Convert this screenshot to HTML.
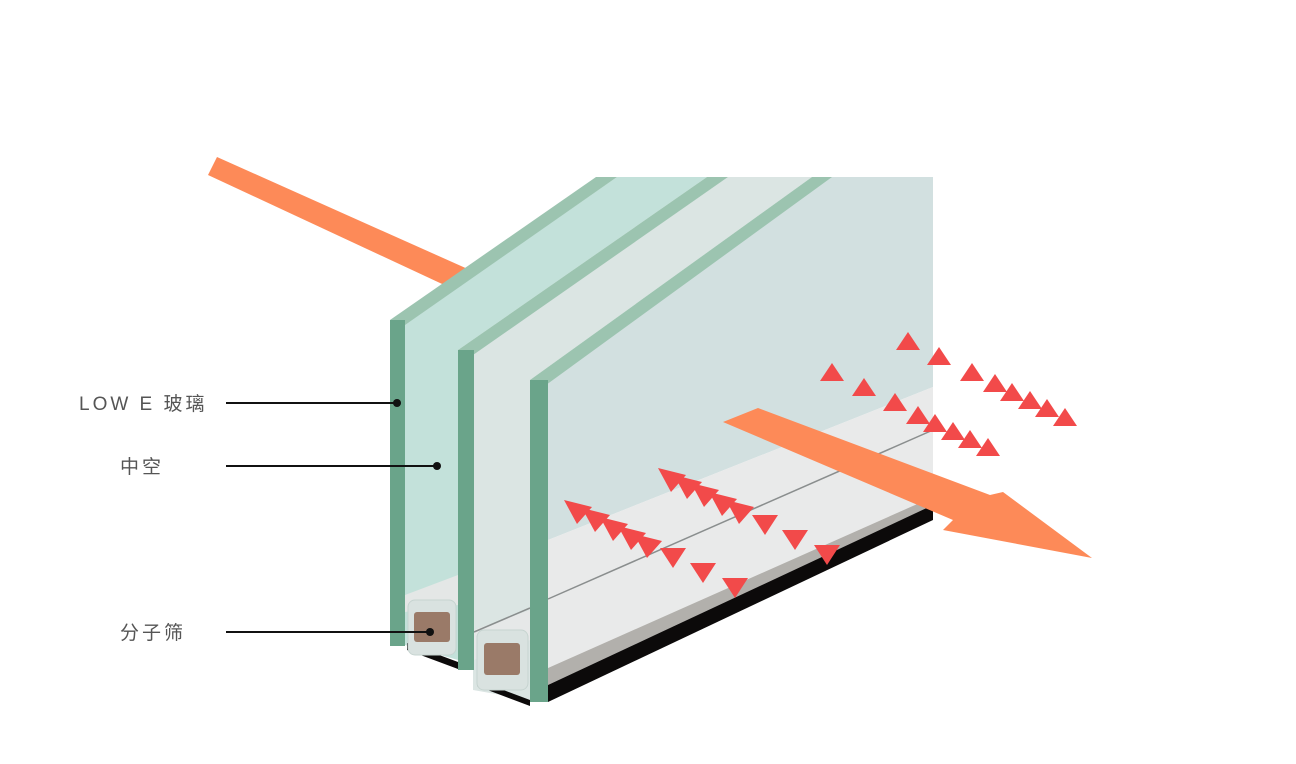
<!DOCTYPE html>
<html><head><meta charset="utf-8"><style>
html,body{margin:0;padding:0;background:#fff;}
svg{display:block;}
text{font-family:"Liberation Sans","Noto Sans CJK SC",sans-serif;fill:#555;font-size:19px;letter-spacing:3px;}
</style></head><body>
<svg width="1296" height="764" viewBox="0 0 1296 764" xmlns="http://www.w3.org/2000/svg">
<rect width="1296" height="764" fill="#fff"/>
<polygon points="217,157 470,270 455,290 208,175" fill="#fd8a58"/>
<polygon points="545,384 830,177 933,177 933,387 548,540" fill="#d2e0e0"/>
<polygon points="548,540 933,387 933,497 548,668" fill="#e9eaea"/>
<polygon points="548,668 933,497 933,505 548,685" fill="#b2b0ac"/>
<polygon points="548,685 933,505 933,520 548,702" fill="#0c0a0a"/>
<line x1="548" y1="599" x2="933" y2="430" stroke="#8a8e8e" stroke-width="1.5"/>
<polygon points="473,354 728,177 812,177 530,380 530,700 473,690" fill="#dbe5e3"/>
<polygon points="474,630 530,610 530,640 474,660" fill="#e6e8e8"/>
<line x1="474" y1="632" x2="530" y2="608" stroke="#8a8e8e" stroke-width="1.5"/>
<polygon points="477,680 530,700 530,706 477,686" fill="#0c0a0a"/>
<rect x="477" y="630" width="51" height="60" rx="7" fill="#d9e2e0" stroke="#c6d4d0"/>
<rect x="484" y="643" width="36" height="32" rx="3" fill="#9a7a68"/>
<polygon points="405,324 617,177 707,177 458,350 458,660 405,645" fill="#c3e1da"/>
<polygon points="405,595 458,575 458,605 405,612" fill="#e4e7e6"/>
<polygon points="407,643 458,662 458,669 407,650" fill="#0c0a0a"/>
<rect x="408" y="600" width="48" height="55" rx="7" fill="#d9e2e0" stroke="#c6d4d0"/>
<rect x="414" y="612" width="36" height="30" rx="3" fill="#9a7a68"/>
<polygon points="390,320 596,177 617,177 405,325" fill="#9cc4b0"/>
<polygon points="458,350 707,177 728,177 473,355" fill="#9cc4b0"/>
<polygon points="530,380 812,177 832,177 546,385" fill="#9cc4b0"/>
<rect x="390" y="320" width="15" height="326" fill="#6aa48a"/>
<rect x="458" y="350" width="16" height="320" fill="#6aa48a"/>
<rect x="530" y="380" width="18" height="322" fill="#6aa48a"/>
<polygon points="723,422 758,408 990,495 1003,492 1092,558 943,530 953,520" fill="#fd8a58"/>
<g fill="#f24a4a">
<path d="M0,-10 L12,8 L-12,8 Z" transform="translate(908,342)"/>
<path d="M0,-10 L12,8 L-12,8 Z" transform="translate(939,357)"/>
<path d="M0,-10 L12,8 L-12,8 Z" transform="translate(972,373)"/>
<path d="M0,-10 L12,8 L-12,8 Z" transform="translate(995,384)"/>
<path d="M0,-10 L12,8 L-12,8 Z" transform="translate(1012,393)"/>
<path d="M0,-10 L12,8 L-12,8 Z" transform="translate(1030,401)"/>
<path d="M0,-10 L12,8 L-12,8 Z" transform="translate(1047,409)"/>
<path d="M0,-10 L12,8 L-12,8 Z" transform="translate(1065,418)"/>
<path d="M0,-10 L12,8 L-12,8 Z" transform="translate(832,373)"/>
<path d="M0,-10 L12,8 L-12,8 Z" transform="translate(864,388)"/>
<path d="M0,-10 L12,8 L-12,8 Z" transform="translate(895,403)"/>
<path d="M0,-10 L12,8 L-12,8 Z" transform="translate(918,416)"/>
<path d="M0,-10 L12,8 L-12,8 Z" transform="translate(935,424)"/>
<path d="M0,-10 L12,8 L-12,8 Z" transform="translate(953,432)"/>
<path d="M0,-10 L12,8 L-12,8 Z" transform="translate(970,440)"/>
<path d="M0,-10 L12,8 L-12,8 Z" transform="translate(988,448)"/>
<path d="M-16,-12 L12,-5 L-3,12 Z" transform="translate(580,512)"/>
<path d="M-16,-12 L12,-5 L-3,12 Z" transform="translate(598,520)"/>
<path d="M-16,-12 L12,-5 L-3,12 Z" transform="translate(616,529)"/>
<path d="M-16,-12 L12,-5 L-3,12 Z" transform="translate(634,538)"/>
<path d="M-16,-12 L12,-5 L-3,12 Z" transform="translate(650,546)"/>
<path d="M-16,-12 L12,-5 L-3,12 Z" transform="translate(674,480)"/>
<path d="M-16,-12 L12,-5 L-3,12 Z" transform="translate(690,487)"/>
<path d="M-16,-12 L12,-5 L-3,12 Z" transform="translate(707,495)"/>
<path d="M-16,-12 L12,-5 L-3,12 Z" transform="translate(725,504)"/>
<path d="M-16,-12 L12,-5 L-3,12 Z" transform="translate(742,512)"/>
<path d="M-13,-8 L13,-8 L0,12 Z" transform="translate(673,556)"/>
<path d="M-13,-8 L13,-8 L0,12 Z" transform="translate(703,571)"/>
<path d="M-13,-8 L13,-8 L0,12 Z" transform="translate(735,586)"/>
<path d="M-13,-8 L13,-8 L0,12 Z" transform="translate(765,523)"/>
<path d="M-13,-8 L13,-8 L0,12 Z" transform="translate(795,538)"/>
<path d="M-13,-8 L13,-8 L0,12 Z" transform="translate(827,553)"/>
</g>
<text x="79" y="410">LOW E 玻璃</text>
<text x="120" y="473">中空</text>
<text x="120" y="639">分子筛</text>
<g stroke="#111" stroke-width="2">
<line x1="226" y1="403" x2="397" y2="403"/>
<line x1="226" y1="466" x2="437" y2="466"/>
<line x1="226" y1="632" x2="430" y2="632"/>
</g>
<g fill="#111">
<circle cx="397" cy="403" r="4"/>
<circle cx="437" cy="466" r="4"/>
<circle cx="430" cy="632" r="4"/>
</g>
</svg>
</body></html>
